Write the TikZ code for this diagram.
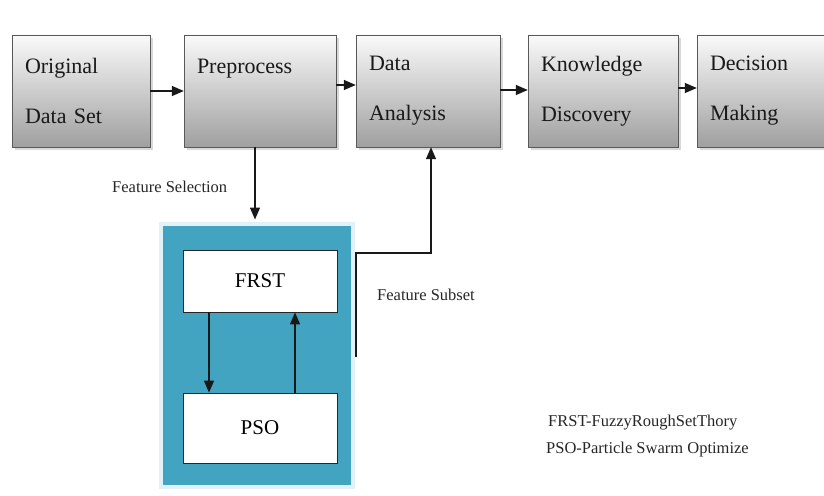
\documentclass[tikz,border=0pt]{standalone}
\usepackage{fontspec}
\setmainfont{Liberation Serif}
\usetikzlibrary{positioning, arrows.meta, shadows}
\definecolor{optblue}{RGB}{66,164,192}
\definecolor{optedge}{RGB}{226,241,248}

\begin{document}
\begin{tikzpicture}[
    x=1pt, y=-1pt,
    stage/.style={rectangle, draw=gray!70!black, top color=gray!4, bottom color=gray!75,
                  minimum height=112pt, text width=#1, align=left, inner sep=13pt,
                  font=\fontsize{22}{50}\selectfont, text=black!90,
                  drop shadow={shadow xshift=3pt, shadow yshift=-3pt, fill=gray!60}},
    algo/.style={rectangle, draw=black!85, thick, fill=white, minimum width=154pt,
                 font=\fontsize{21}{24}\selectfont},
    arrow/.style={-{Triangle[length=12pt, width=10pt]}, line width=1.4pt, draw=black!90},
    note/.style={font=\fontsize{16.5}{18}\selectfont, text=black!85, anchor=west, inner sep=0pt}
]
\useasboundingbox (0,0) rectangle (824,495);
\clip (0,0) rectangle (824,495);

% --- Etapas del proceso ---
\node[stage=112pt] (orig) at (81,91) {Original\\Data Set};
\node[stage=126pt] (prep) at (260,91) {Preprocess\\~};
\node[stage=118pt] (data) at (428,91) {Data\\Analysis};
\node[stage=124pt] (know) at (603,91) {Knowledge\\Discovery};
\node[stage=130pt] (deci) at (775,91) {Decision\\Making};

\draw[arrow] (orig.east |- 0,91) -- (prep.west |- 0,91);
\draw[arrow] (prep.east |- 0,85) -- (data.west |- 0,85);
\draw[arrow] (data.east |- 0,90) -- (know.west |- 0,90);
\draw[arrow] (know.east |- 0,88) -- (deci.west |- 0,88);

% --- Bloque FRST / PSO ---
\node[rectangle, draw=optedge, line width=4pt, fill=optblue, minimum width=192pt,
      minimum height=263pt] (opt) at (257,355) {};
\node[algo, minimum height=62pt] (frst) at (260,281) {FRST};
\node[algo, minimum height=70pt] (pso) at (260,428) {PSO};

\draw[arrow] ([xshift=-51pt]frst.south) -- ([xshift=-51pt]pso.north);
\draw[arrow] ([xshift=35pt]pso.north) -- ([xshift=35pt]frst.south);

% --- Selección y subconjunto ---
\draw[arrow, shorten >=2pt] ([xshift=-5pt]prep.south) -- ([xshift=-5pt]prep.south |- opt.north);
\node[note] (selec) at (112,187) {Feature Selection};

\coordinate (fsout) at (356,357);
\coordinate (bend) at (431,253);
\draw[arrow] (fsout) -- (fsout |- bend) -- (bend) -- (bend |- data.south);
\node[note] (subset) at (377,295) {Feature Subset};

% --- Leyenda ---
\node[note] (leg1) at (548,423) {FRST-FuzzyRoughSetThory};
\node[note] (leg2) at (546,450) {PSO-Particle Swarm Optimize};

\end{tikzpicture}
\end{document}
